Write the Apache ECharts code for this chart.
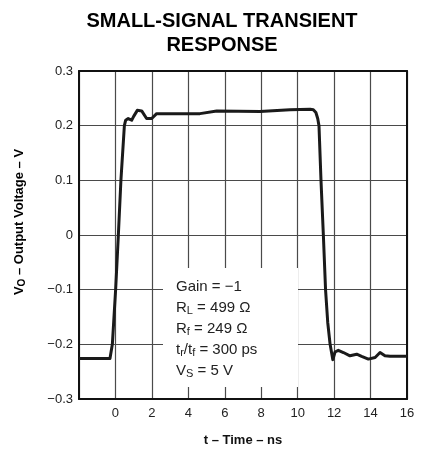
<!DOCTYPE html>
<html><head><meta charset="utf-8">
<script src="https://cdn.jsdelivr.net/npm/echarts@6/dist/echarts.min.js"></script>
<style>html,body{margin:0;padding:0;background:#fff}#c{width:425px;height:458px}</style>
</head><body><div id="c"></div>
<script>
// Time axis (ns) and output voltage (V)
const timeNs = [-2, -0.3, -0.17, 0.01, 0.16, 0.3, 0.49, 0.56, 0.7, 0.89, 1.0, 1.2, 1.3, 1.44, 1.71, 1.99, 2.26, 4.64, 5.56, 7.93, 9.58, 10.68, 10.86, 11.0, 11.1, 11.17, 11.28, 11.41, 11.53, 11.65, 11.78, 11.93, 12.05, 12.23, 12.51, 12.87, 13.24, 13.51, 13.88, 14.25, 14.52, 14.79, 15.07, 16];
const voltageV = [-0.226, -0.226, -0.2, -0.1, 0.0, 0.1, 0.2, 0.21, 0.213, 0.21, 0.217, 0.228, 0.23, 0.227, 0.213, 0.213, 0.222, 0.222, 0.227, 0.226, 0.229, 0.23, 0.229, 0.224, 0.213, 0.2, 0.1, 0.0, -0.1, -0.16, -0.2, -0.228, -0.214, -0.211, -0.215, -0.221, -0.218, -0.222, -0.227, -0.224, -0.215, -0.221, -0.222, -0.222];
const xMin = -2, xMax = 16, xStep = 2;
const yMin = -0.3, yMax = 0.3, yStep = 0.1;
const titleText = 'SMALL-SIGNAL TRANSIENT\nRESPONSE';
const xName = 't – Time – ns';
const conditions = ['{n|Gain = −1}', '{n|R}{s|L}{n| = 499 Ω}', '{n|R}{s|f}{n| = 249 Ω}', '{n|t}{s|r}{n|/t}{s|f}{n| = 300 ps}', '{n|V}{s|S}{n| = 5 V}'];

const FONT = '"Liberation Sans", Arial, sans-serif';
const data = timeNs.map((t, i) => [t, voltageV[i]]);
const chart = echarts.init(document.getElementById('c'), null, {renderer: 'canvas'});
const gridLine = {show: true, lineStyle: {color: '#4a4a4a', width: 1.2}};
const frame = {show: true, onZero: false, lineStyle: {color: '#111', width: 2}};
chart.setOption({
  animation: false,
  backgroundColor: '#fff',
  title: {
    text: titleText, left: 217, top: 4, textAlign: 'center',
    textStyle: {fontFamily: FONT, fontWeight: 'bold', fontSize: 20, lineHeight: 24, color: '#000'}
  },
  grid: {left: 79, right: 18, top: 71, bottom: 59},
  xAxis: [{
    type: 'value', min: xMin, max: xMax, interval: xStep,
    name: xName, nameLocation: 'middle', nameGap: 35,
    nameTextStyle: {fontFamily: FONT, fontWeight: 'bold', fontSize: 13, color: '#111'},
    axisLine: frame, axisTick: {show: false},
    axisLabel: {fontFamily: FONT, fontSize: 13, color: '#222', margin: 8,
      formatter: v => (v === xMin ? '' : String(v))},
    splitLine: gridLine
  }, {
    type: 'value', position: 'top', min: xMin, max: xMax, interval: xStep,
    axisLine: frame, axisTick: {show: false}, axisLabel: {show: false}, splitLine: {show: false}
  }],
  yAxis: [{
    type: 'value', min: yMin, max: yMax, interval: yStep,
    axisLine: frame, axisTick: {show: false},
    axisLabel: {fontFamily: FONT, fontSize: 13, color: '#222', margin: 6,
      formatter: v => (Math.abs(v) < 1e-9 ? '0' : (v < 0 ? '−' : '') + Math.abs(v).toFixed(1))},
    splitLine: gridLine
  }, {
    type: 'value', position: 'right', min: yMin, max: yMax, interval: yStep,
    axisLine: frame, axisTick: {show: false}, axisLabel: {show: false}, splitLine: {show: false}
  }],
  series: [{
    type: 'line', data: data, symbol: 'none', smooth: false,
    lineStyle: {color: '#1a1a1a', width: 3, join: 'round'}, z: 5
  }],
  graphic: [
    {type: 'rect', z: 20, shape: {x: 163, y: 268, width: 135, height: 119}, style: {fill: '#fff'}},
    {type: 'text', z: 21, left: 176, top: 276, style: {
      text: conditions.join('\n'), fontFamily: FONT, fontSize: 15, lineHeight: 21, fill: '#222',
      rich: {
        n: {fontFamily: FONT, fontSize: 15, lineHeight: 21, color: '#222'},
        s: {fontFamily: FONT, fontSize: 11, lineHeight: 21, color: '#222', padding: [7, 0, 0, 0]}
      }
    }},
    {type: 'text', z: 21, x: 19, y: 222, rotation: Math.PI / 2, style: {
      text: '{b|V}{s|O}{b| – Output Voltage – V}', align: 'center', verticalAlign: 'middle',
      rich: {
        b: {fontFamily: FONT, fontWeight: 'bold', fontSize: 13, color: '#111'},
        s: {fontFamily: FONT, fontWeight: 'bold', fontSize: 10, color: '#111', padding: [7, 0, 0, 0]}
      }
    }}
  ]
});
</script>
</body></html>
